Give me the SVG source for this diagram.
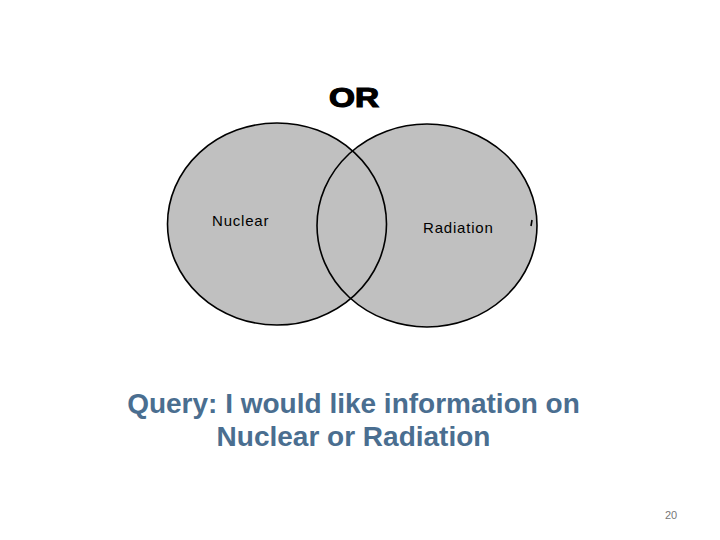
<svg xmlns="http://www.w3.org/2000/svg" width="720" height="540" viewBox="0 0 720 540">
<style>
.fill{fill:#c0c0c0;stroke:none}
.edge{fill:none;stroke:#000;stroke-width:1.6}
.lbl{font-family:"Liberation Sans",Arial,sans-serif;font-size:15px;fill:#000;letter-spacing:0.8px}
.q{font-family:"Liberation Sans",Arial,sans-serif;font-size:28px;font-weight:bold;fill:#4a6e90;text-anchor:middle}
</style>
<rect width="720" height="540" fill="#fff"/>
<text x="329" y="107" font-family="'Liberation Sans',Arial,sans-serif" font-size="27" font-weight="bold" stroke="#000" stroke-width="1.2" textLength="50" lengthAdjust="spacingAndGlyphs">OR</text>
<g id="nuclear">
<ellipse class="fill" cx="277" cy="224" rx="109.5" ry="101"/>
</g>
<g id="radiation">
<ellipse class="fill" cx="427" cy="225.5" rx="110" ry="101.5"/>
</g>
<g id="outlines">
<ellipse class="edge" cx="277" cy="224" rx="109.5" ry="101"/>
<ellipse class="edge" cx="427" cy="225.5" rx="110" ry="101.5"/>
<path d="M532 220 L531 226" stroke="#000" stroke-width="1.6"/>
</g>
<text class="lbl" x="212" y="226">Nuclear</text>
<text class="lbl" x="423" y="233">Radiation</text>
<text class="q" x="353.5" y="413">Query: I would like information on</text>
<text class="q" x="353.5" y="446">Nuclear or Radiation</text>
<text x="671" y="519" font-family="'Liberation Sans',Arial,sans-serif" font-size="11" fill="#777" text-anchor="middle">20</text>
</svg>
